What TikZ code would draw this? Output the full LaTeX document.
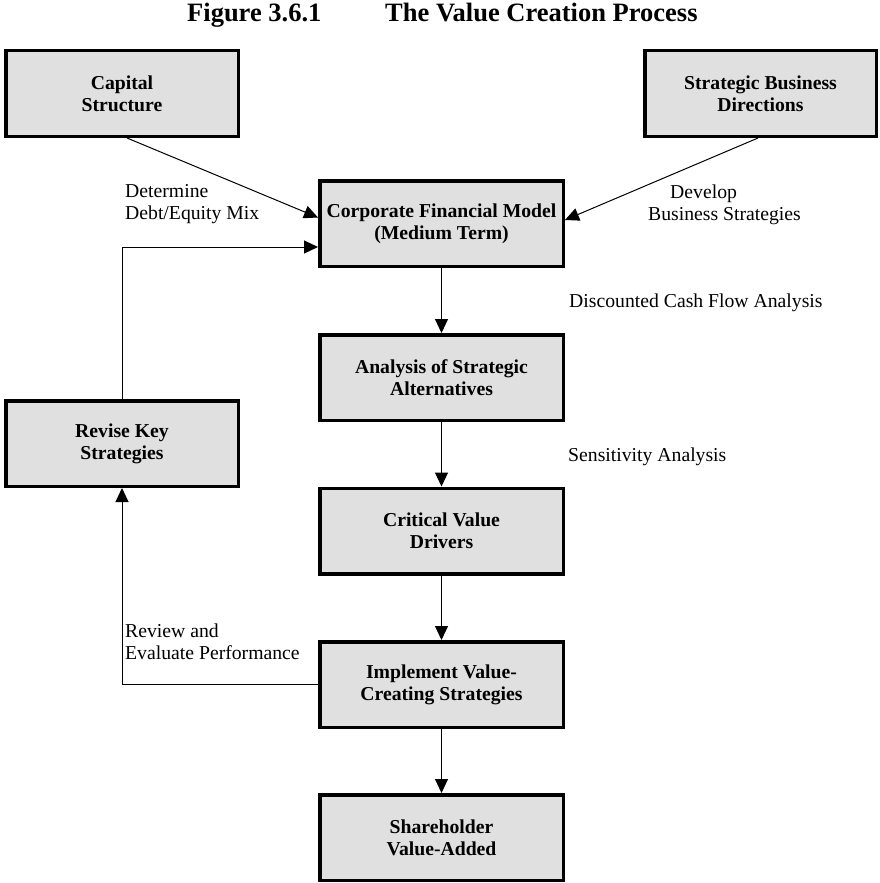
\documentclass[tikz,border=0pt]{standalone}
\usepackage{fontspec}
\setmainfont{Liberation Serif}
\usetikzlibrary{arrows.meta}
\definecolor{boxgray}{RGB}{224,224,224}
\begin{document}
\begin{tikzpicture}[x=1pt,y=-1pt,
  box/.style={draw=black,fill=boxgray,line width=3.5pt,align=center,
    font=\fontsize{19.7}{22}\selectfont\bfseries,inner sep=0pt},
  mainbox/.style={box,minimum width=243.5pt,minimum height=85.5pt},
  sidebox/.style={box,minimum width=232.5pt,minimum height=85.5pt},
  conn/.style={line width=1pt,-{Triangle[length=14pt,width=13pt]}},
  lab/.style={font=\fontsize{19.7}{22}\selectfont,align=left,anchor=west,inner sep=0pt},
  ttl/.style={anchor=base west,inner sep=0pt,font=\fontsize{26.5}{30}\selectfont\bfseries}]
\useasboundingbox (0,0) rectangle (880,883);
% title
\node[ttl] (t1) at (187,22) {Figure 3.6.1};
\node[ttl] (t2) at (385,22) {The Value Creation Process};
% boxes
\node[sidebox] (cap) at (122,93.5) {Capital\\Structure};
\node[sidebox,minimum width=231.5pt] (str) at (760.5,93.5) {Strategic Business\\Directions};
\node[mainbox] (corp) at (441.5,223.5) {Corporate Financial Model\\(Medium Term)};
\node[mainbox] (ana) at (441.5,377.5) {Analysis of Strategic\\Alternatives};
\node[mainbox] (cri) at (441.5,531) {Critical Value\\Drivers};
\node[mainbox] (imp) at (441.5,684.5) {Implement Value-\\Creating Strategies};
\node[mainbox] (sha) at (441.5,837.5) {Shareholder\\Value-Added};
\node[sidebox] (rev) at (122,443.5) {Revise Key\\Strategies};
% connectors
\draw[conn] ([xshift=5pt]cap.south) -- ([yshift=6pt]corp.west);
\draw[conn] ([xshift=-2.5pt]str.south) -- ([yshift=3.5pt]corp.east);
\draw[conn] (rev.north) |- ([yshift=-23.5pt]corp.west);
\draw[conn] (imp.west) -| (rev.south);
\draw[conn] (corp.south) -- (ana.north);
\draw[conn] (ana.south) -- (cri.north);
\draw[conn] (cri.south) -- (imp.north);
\draw[conn] (imp.south) -- (sha.north);
% labels
\node[lab] (l1) at (125,204) {Determine\\Debt/Equity Mix};
\node[lab] (l2) at (648,205) {\hspace{22pt}Develop\\Business Strategies};
\node[lab] (l3) at (569,303) {Discounted Cash Flow Analysis};
\node[lab] (l4) at (568,457) {Sensitivity Analysis};
\node[lab] (l5) at (125,641.5) {Review and\\Evaluate Performance};
\end{tikzpicture}
\end{document}
